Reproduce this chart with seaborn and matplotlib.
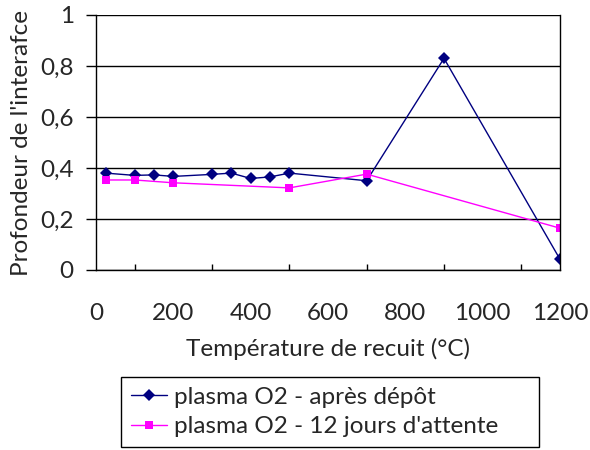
import matplotlib
matplotlib.use("Agg")
import matplotlib.pyplot as plt
from matplotlib.ticker import MultipleLocator, FuncFormatter
import seaborn as sns
import pandas as pd

# plasma O2 - après dépôt
temp_a = [25, 100, 150, 200, 300, 350, 400, 450, 500, 700, 900, 1200]
prof_a = [0.38, 0.371, 0.373, 0.367, 0.375, 0.38, 0.359, 0.365, 0.38, 0.35, 0.83, 0.042]

# plasma O2 - 12 jours d'attente
temp_b = [25, 100, 200, 500, 700, 1200]
prof_b = [0.353, 0.353, 0.342, 0.322, 0.376, 0.164]

labels = ["plasma O2 - après dépôt", "plasma O2 - 12 jours d'attente"]
colors = ["#000080", "#FF00FF"]
markers = ["D", "s"]

df = pd.concat([
    pd.DataFrame({"temp": temp_a, "prof": prof_a, "serie": labels[0]}),
    pd.DataFrame({"temp": temp_b, "prof": prof_b, "serie": labels[1]}),
])

sns.set_style("white")
plt.rcParams["font.family"] = ["Lato", "DejaVu Sans"]
fs = 17.5

fig = plt.figure(figsize=(5.9, 4.5), dpi=100)
ax = fig.add_axes([96 / 590, 1 - 270 / 450, (560 - 96) / 590, (270 - 15) / 450])

sns.lineplot(data=df, x="temp", y="prof", hue="serie", style="serie",
             palette=colors, markers=markers, dashes=False, sort=False,
             markersize=6, markeredgewidth=0, linewidth=1.0, ax=ax)

ax.set_xlim(0, 1200)
ax.set_ylim(0, 1)
ax.xaxis.set_major_locator(MultipleLocator(200))
ax.xaxis.set_minor_locator(MultipleLocator(100))
ax.yaxis.set_major_locator(MultipleLocator(0.2))
ax.yaxis.set_major_formatter(FuncFormatter(lambda v, p: ("%g" % round(v, 1)).replace(".", ",")))

ax.grid(axis="y", color="black", linewidth=1.0)
ax.set_axisbelow(True)
for s in ["left", "right", "bottom"]:
    ax.spines[s].set_visible(True)
    ax.spines[s].set_color("black")
    ax.spines[s].set_linewidth(1.0)
ax.spines["top"].set_visible(False)

ax.tick_params(axis="x", which="major", direction="inout", length=11, width=1,
               color="#555555", pad=18, labelsize=fs)
ax.tick_params(axis="x", which="minor", direction="in", length=4, width=1,
               color="black", bottom=True)
ax.tick_params(axis="y", which="major", direction="out", length=7, width=1,
               color="black", pad=9, labelsize=fs, left=True)

ax.set_xlabel("Température de recuit (°C)", fontsize=fs, labelpad=10)
ax.set_ylabel("Profondeur de l'interafce", fontsize=fs, labelpad=6)

handles, labs = ax.get_legend_handles_labels()
ax.get_legend().remove()
leg_h = 70 / 450
leg = fig.legend(handles, labs, loc="upper left", mode="expand",
                 bbox_to_anchor=(121 / 590, 1 - 377 / 450 - leg_h, (539 - 121) / 590, leg_h),
                 fontsize=fs, frameon=True, fancybox=False, framealpha=1,
                 edgecolor="black", borderaxespad=0, handlelength=1.5,
                 handletextpad=0.3, labelspacing=0.35, borderpad=0.4)
leg.get_frame().set_linewidth(1.0)

fig.savefig("out.png", dpi=100)
